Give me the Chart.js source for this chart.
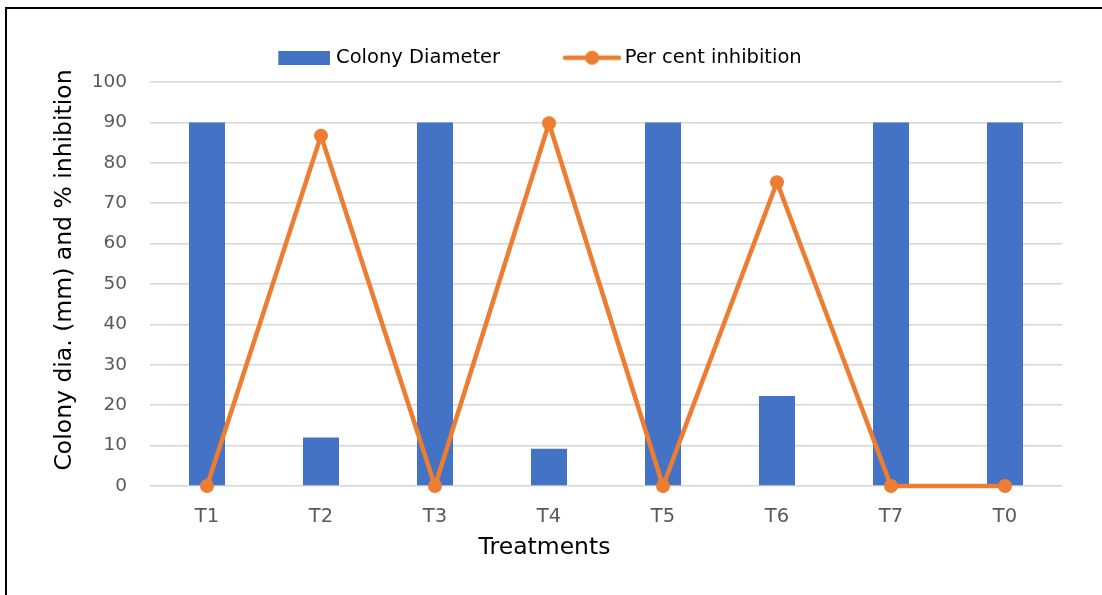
<!DOCTYPE html>
<html>
<head>
<meta charset="utf-8">
<script src="https://cdn.jsdelivr.net/npm/chart.js@4/dist/chart.umd.min.js"></script>
<style>
  html, body { margin: 0; padding: 0; background: #ffffff; overflow: hidden; }
  #wrap { position: relative; width: 1102px; height: 595px; }
  #frame { position: absolute; left: 5px; top: 7px; width: 2000px; height: 2000px;
           border-top: 2px solid #000; border-left: 2px solid #000; pointer-events: none; }
  canvas { position: absolute; left: 0; top: 0; }
</style>
</head>
<body>
<div id="wrap">
  <canvas id="c" width="1102" height="595"></canvas>
  <div id="frame"></div>
</div>
<script>
const categories = ['T1', 'T2', 'T3', 'T4', 'T5', 'T6', 'T7', 'T0'];
const colonyDiameter = [90, 12, 90, 9.2, 90, 22.3, 90, 90];
const perCentInhibition = [0, 86.7, 0, 89.8, 0, 75.2, 0, 0];
const seriesNames = ['Colony Diameter', 'Per cent inhibition'];
const yTitle = 'Colony dia. (mm) and % inhibition';
const xTitle = 'Treatments';

const BLUE = '#4472C4';
const ORANGE = '#ED7D31';
const FONT = '"DejaVu Sans", "Liberation Sans", sans-serif';

function makeBarIcon() {
  const c = document.createElement('canvas');
  c.width = 60; c.height = 14;
  const g = c.getContext('2d');
  g.fillStyle = BLUE;
  g.fillRect(8, 0, 52, 14);
  return c;
}
function makeLineIcon() {
  const c = document.createElement('canvas');
  c.width = 64; c.height = 16;
  const g = c.getContext('2d');
  g.strokeStyle = ORANGE;
  g.lineWidth = 4.5;
  g.lineCap = 'round';
  g.beginPath(); g.moveTo(8, 8); g.lineTo(62, 8); g.stroke();
  g.fillStyle = ORANGE;
  g.beginPath(); g.arc(35, 8, 7, 0, Math.PI * 2); g.fill();
  return c;
}
const legendIcons = [makeBarIcon(), makeLineIcon()];

const legendHeightPlugin = {
  id: 'legendHeight',
  afterInit(chart) {
    const lg = chart.legend;
    if (!lg) return;
    const f = lg.fit.bind(lg);
    lg.fit = function () { f(); this.height = 97; };
  }
};

// axis titles placed like the source (Excel centres them off the plot centre)
const axisTitlePlugin = {
  id: 'axisTitles',
  afterDraw(chart) {
    const ctx = chart.ctx;
    const a = chart.chartArea;
    ctx.save();
    ctx.fillStyle = '#000000';
    ctx.font = '23.5px ' + FONT;
    ctx.textAlign = 'center';
    ctx.textBaseline = 'alphabetic';
    ctx.fillText(xTitle, a.left + (a.right - a.left) * 0.4326, a.bottom + 68);
    ctx.translate(a.left - 79, (a.top + a.bottom) / 2 - 14);
    ctx.rotate(-Math.PI / 2);
    ctx.fillText(yTitle, 0, 0);
    ctx.restore();
  }
};

new Chart(document.getElementById('c'), {
  type: 'bar',
  data: {
    labels: categories,
    datasets: [
      {
        type: 'bar',
        label: seriesNames[0],
        data: colonyDiameter,
        backgroundColor: BLUE,
        borderWidth: 0,
        barPercentage: 0.316,
        categoryPercentage: 1.0,
        order: 2
      },
      {
        type: 'line',
        label: seriesNames[1],
        data: perCentInhibition,
        borderColor: ORANGE,
        backgroundColor: ORANGE,
        borderWidth: 4.5,
        pointStyle: 'circle',
        pointRadius: 7,
        pointBorderWidth: 0,
        pointBackgroundColor: ORANGE,
        tension: 0,
        clip: false,
        order: 1
      }
    ]
  },
  options: {
    responsive: false,
    animation: false,
    events: [],
    layout: { padding: { left: 14, right: 40, top: -15, bottom: 0 } },
    plugins: {
      tooltip: { enabled: false },
      legend: {
        display: true,
        position: 'top',
        labels: {
          usePointStyle: true,
          pointStyleWidth: 52,
          padding: 63,
          color: '#595959',
          font: { family: FONT, size: 19.5 },
          sort: (a, b) => a.datasetIndex - b.datasetIndex,
          generateLabels(chart) {
            return chart.data.datasets.map((ds, i) => ({
              text: ds.label,
              pointStyle: legendIcons[i],
              fillStyle: ds.backgroundColor,
              strokeStyle: ds.borderColor,
              lineWidth: 0,
              hidden: false,
              datasetIndex: i
            }));
          }
        }
      }
    },
    scales: {
      x: {
        offset: true,
        grid: { display: false, drawTicks: false },
        border: { display: false },
        ticks: { color: '#595959', padding: 19, font: { family: FONT, size: 19.5 } },
        title: { display: false, text: xTitle },
        afterFit(scale) { scale.height = 109; }
      },
      y: {
        min: 0, max: 100,
        ticks: { stepSize: 10, color: '#595959', padding: 23, font: { family: FONT, size: 18.5 } },
        grid: { color: '#d6d6d6', lineWidth: 1.6, drawTicks: false },
        border: { display: false },
        title: { display: false, text: yTitle },
        afterFit(scale) { scale.width = 136; }
      }
    }
  },
  plugins: [legendHeightPlugin, axisTitlePlugin]
});
</script>
</body>
</html>
